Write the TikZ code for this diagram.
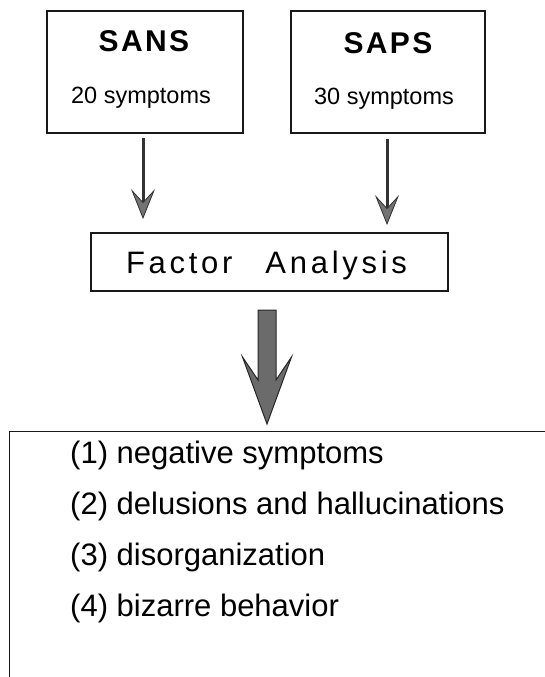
\documentclass[tikz,border=0pt]{standalone}
\usepackage{fontspec}
\setmainfont{Liberation Sans}
\newfontfamily\spacedfont[LetterSpace=8]{Liberation Sans}
\newfontfamily\widefont[LetterSpace=12]{Liberation Sans}
\usetikzlibrary{arrows.meta,calc}
\begin{document}
\begin{tikzpicture}[x=1pt,y=-1pt,
  box/.style={draw=black!90, line width=1.3pt, inner sep=0pt},
  title/.style={anchor=base, inner sep=0pt, font=\spacedfont\bfseries\fontsize{30}{32}\selectfont},
  count/.style={anchor=base, inner sep=0pt, font=\fontsize{23.5}{26}\selectfont},
  thinarrow/.style={draw=black!80, line width=3pt,
    -{Stealth[length=30pt,width=24pt,inset=13pt,line width=0.8pt,fill=black!55]}},
  bigarrow/.style={draw=black!85, line width=1pt, fill=black!58},
  item/.style={anchor=base west, inner sep=0pt, font=\fontsize{31}{32}\selectfont},
]
\useasboundingbox (0,0) rectangle (545,677);

% source boxes
\node[box, minimum width=196pt, minimum height=122pt] (sans) at (145,72) {};
\node[title] (sanst) at (144,52) {SANS};
\node[count] (sansc) at (141,103) {20 symptoms};

\node[box, minimum width=194pt, minimum height=122pt] (saps) at (388,72) {};
\node[title] (sapst) at (388,53) {SAPS};
\node[count] (sapsc) at (384,104) {30 symptoms};

% factor analysis box
\node[box, line width=1.8pt, minimum width=357pt, minimum height=58pt] (fa) at (269.5,262) {};
\node[anchor=base, inner sep=0pt, font=\widefont\fontsize{31}{33}\selectfont] (fat) at (266.5,273) {Factor\hspace{33pt}Analysis};

% thin arrows
\coordinate (a1s) at (143,138);
\coordinate (a1e) at (143,219);
\coordinate (a2s) at (387,139);
\coordinate (a2e) at (387,225);
\draw[thinarrow] (a1s) -- (a1e);
\draw[thinarrow] (a2s) -- (a2e);

% result box
\node[box, anchor=north west, minimum width=560pt, minimum height=270pt] (res) at (9,431) {};

% big arrow
\coordinate (bt) at (267,310);
\coordinate (bh) at (267,424);
\filldraw[bigarrow] ($(bt)+(-9,0)$) -- ($(bt)+(9,0)$) -- ($(bh)+(9,-44)$)
  -- ($(bh)+(24.5,-67)$) -- (bh) -- ($(bh)+(-24.5,-67)$) -- ($(bh)+(-9,-44)$) -- cycle;

% items
\node[item] (i1) at (70,463) {(1) negative symptoms};
\node[item] (i2) at (70,514) {(2) delusions and hallucinations};
\node[item] (i3) at (70,565) {(3) disorganization};
\node[item] (i4) at (70,616) {(4) bizarre behavior};
\end{tikzpicture}
\end{document}
